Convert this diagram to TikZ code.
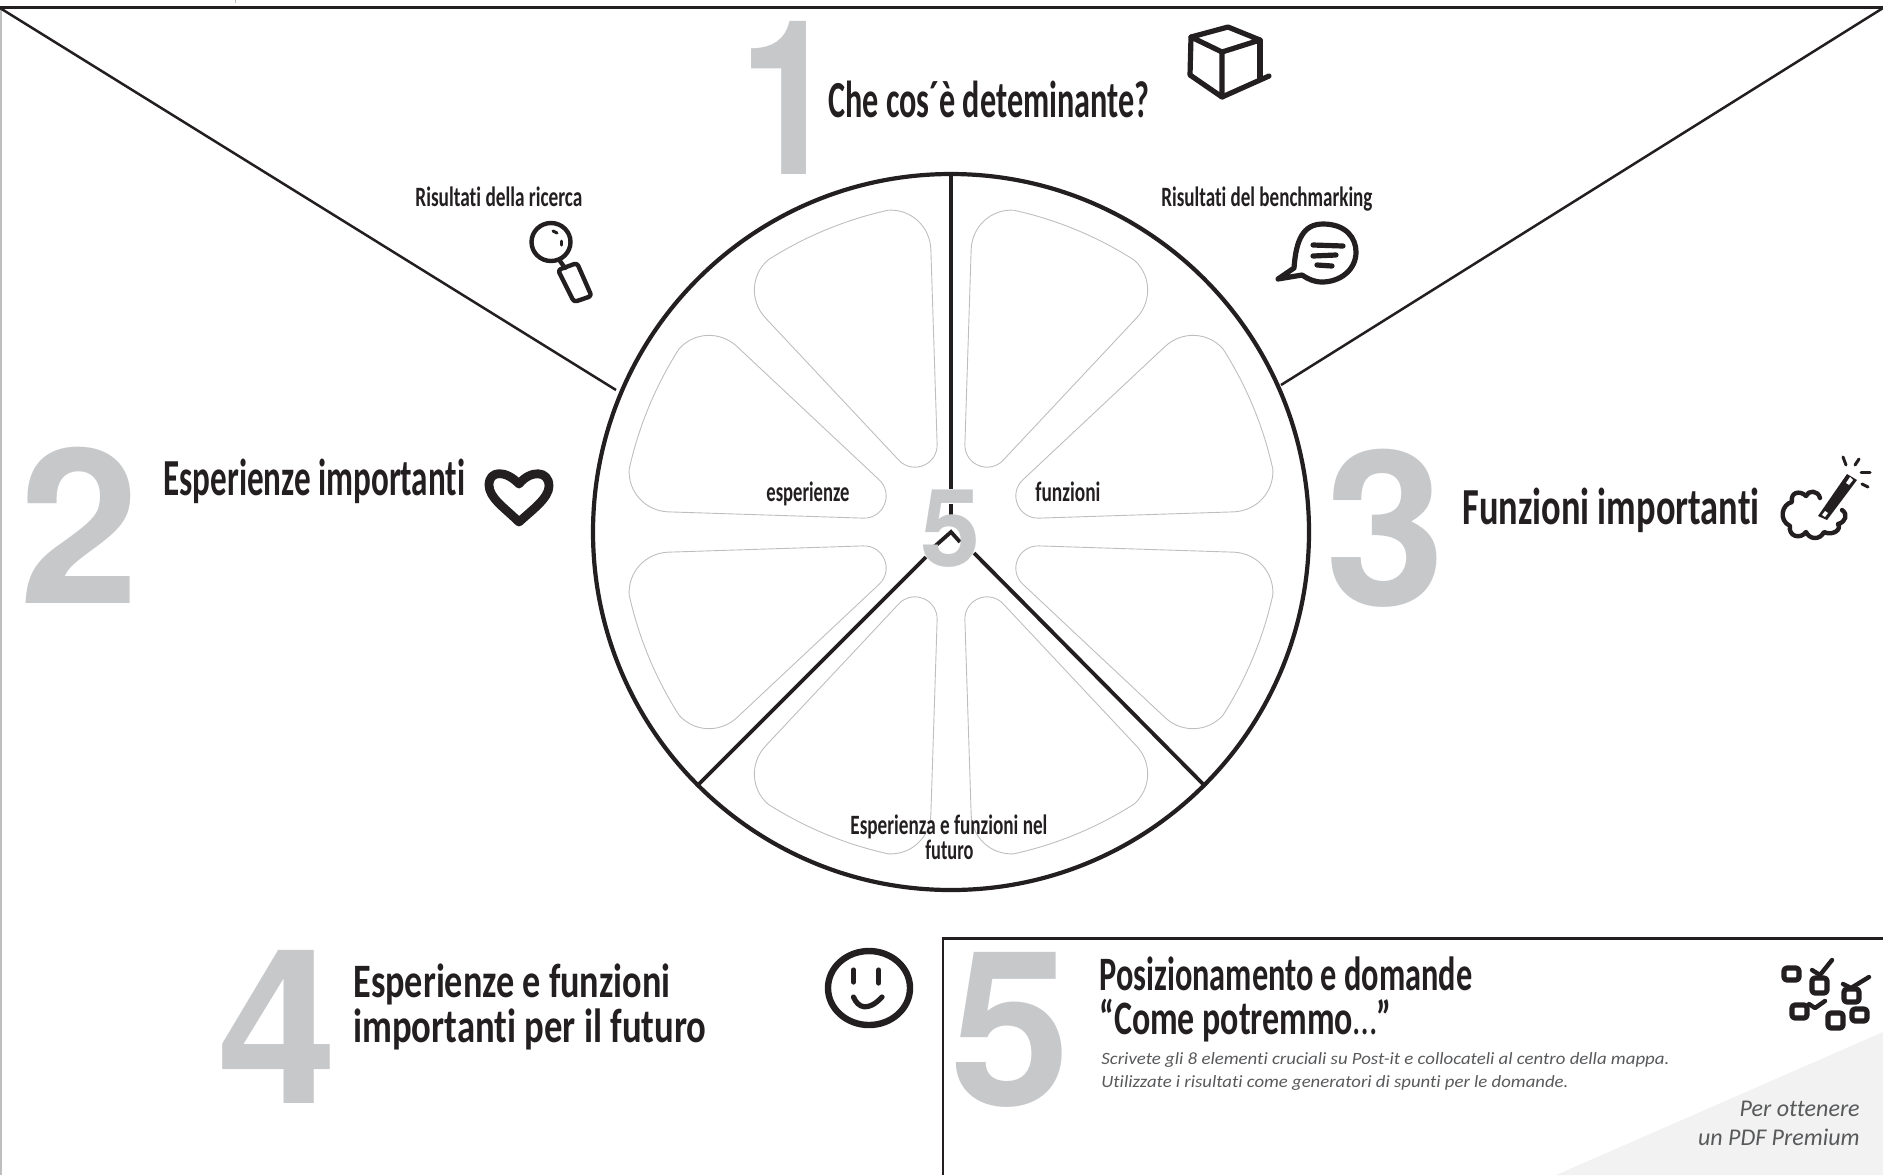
\documentclass[tikz,border=0pt]{standalone}
\usepackage{fontspec}
\usepackage{graphicx}
\setmainfont{Carlito}[Ligatures=NoCommon]
\newfontfamily\handf{Carlito}[Ligatures=NoCommon]
\newfontfamily\digitf{TeX Gyre Heros}
\definecolor{numgray}{HTML}{C7C8CA}
\definecolor{petalgray}{HTML}{BDBEC0}
\definecolor{inkc}{HTML}{231F20}
\definecolor{notec}{HTML}{58595B}
\newcommand\fitw[2]{\resizebox{\dimexpr #1pt/2\relax}{\height}{#2}}
\tikzset{
 pagearea/.style={x=0.5pt,y=-0.5pt},
 framel/.style={draw=inkc,line width=1.3pt},
 spoke/.style={draw=inkc,line width=1.9pt},
 rimc/.style={draw=inkc,line width=2.1pt},
 petalp/.style={draw=petalgray,line width=0.45pt},
 bignum/.style={inner sep=0,anchor=base,text=numgray,font=\digitf\bfseries\fontsize{108}{108}\selectfont},
 midnum/.style={inner sep=0,anchor=base,text=numgray,font=\digitf\bfseries\fontsize{54}{54}\selectfont},
 titlet/.style={inner sep=0,anchor=base west,text=inkc,font=\handf\bfseries\fontsize{26}{26}\selectfont},
 titlettwo/.style={titlet,font=\handf\bfseries\fontsize{24}{24}\selectfont},
 smallt/.style={inner sep=0,anchor=base west,text=inkc,font=\handf\bfseries\fontsize{14}{14}\selectfont},
 notet/.style={inner sep=0,anchor=base west,text=notec,font=\itshape\fontsize{8.6}{10}\selectfont},
 notebig/.style={inner sep=0,anchor=base east,text=notec,font=\itshape\fontsize{12}{14}\selectfont},
 iconl/.style={draw=inkc,line width=2.6pt,line cap=round,line join=round},
 iconm/.style={draw=inkc,line width=2.2pt,line cap=round,line join=round},
}
\begin{document}
\begin{tikzpicture}[pagearea]
\useasboundingbox (0,0) rectangle (1883,1175);
% grey triangle
\fill[color=black!5] (1883,1032) -- (1556,1175) -- (1883,1175) -- cycle;
% frame
\draw[petalgray,line width=1pt] (1,8) -- (1,1175);
\draw[petalgray,line width=0.5pt] (235,0) -- (235,3);
\draw[framel] (0,7.5) -- (1883,7.5);
\coordinate (cen) at (951,532);
\coordinate (tl) at (0,8);
\coordinate (tr) at (1883,8);
\coordinate (dl) at (616,390);
\coordinate (dr) at (1281,385);
\draw[inkc,line width=1.25pt] (tl) -- (dl);
\draw[inkc,line width=1.25pt] (tr) -- (dr);
% box
\draw[framel] (943,1175) -- (943,938.5) -- (1883,938.5);
% petals
\foreach \a in {22.5,67.5,...,337.5}{
 \draw[petalp,shift={(cen)},rotate=\a]
  (20.8,-86.5) .. controls (13.5,-67.2) and (-13.5,-67.2) .. (-20.8,-86.5)
  -- (-89.6,-269) .. controls (-97.5,-290.5) and (-86.6,-314) .. (-65,-321.4)
  .. controls (-22,-329) and (22,-329) .. (65,-321.4)
  .. controls (86.6,-314) and (97.5,-290.5) .. (89.6,-269) -- cycle;
}
% wheel
\draw[rimc] (cen) circle[radius=358];
\coordinate (sT) at (951,174);
\coordinate (sL) at (698,785);
\coordinate (sR) at (1204,785);
\draw[spoke] (sT) -- (951,488.5);
\draw[spoke] (951,504) -- (951,515);
\draw[spoke] (934,547) -- (cen) -- (960,542);
\draw[spoke] (926,557) -- (sL);
\draw[spoke] (974,553) -- (sR);
\node[midnum] (nc) at (951,566) {5};
% big numbers
\node[bignum] (n1) at (789,174) {\scalebox{0.82}[1]{1}};
\node[bignum] (n2) at (80,603) {2};
\node[bignum] (n3) at (1386,605) {3};
\node[bignum] (n4) at (278,1103) {4};
\node[bignum] (n5) at (1011,1105) {5};
% titles
\node[titlet] (t1) at (828,117) {\fitw{321}{Che cos´è deteminante?}};
\node[titlet] (t2) at (163,495) {\fitw{302}{Esperienze importanti}};
\node[titlet] (t3) at (1462,524) {\fitw{297}{Funzioni importanti}};
\node[titlettwo] (t4a) at (353,997) {\fitw{317}{Esperienze e funzioni}};
\node[titlettwo] (t4b) at (353,1042) {\fitw{353}{importanti per il futuro}};
\node[titlettwo] (t5a) at (1099,990) {\fitw{373}{Posizionamento e domande}};
\node[titlettwo] (t5b) at (1099,1034) {\fitw{292}{“Come potremmo{\mdseries …}”}};
% small labels
\node[smallt] (l1) at (415,206) {\fitw{167}{Risultati della ricerca}};
\node[smallt] (l2) at (1161,206) {\fitw{211}{Risultati del benchmarking}};
\node[smallt] (l3) at (766,501) {\fitw{83}{esperienze}};
\node[smallt] (l4) at (1035,501) {\fitw{65}{funzioni}};
\node[smallt] (l5) at (850,834) {\fitw{197}{Esperienza e funzioni nel}};
\node[smallt] (l6) at (925,859) {\fitw{48}{futuro}};
% notes
\node[notet] (p1) at (1101,1064) {\fitw{568}{Scrivete gli 8 elementi cruciali su Post-it e collocateli al centro della mappa.}};
\node[notet] (p2) at (1101,1087) {\fitw{467}{Utilizzate i risultati come generatori di spunti per le domande.}};
\node[notebig] (p3) at (1860,1116) {Per ottenere};
\node[notebig] (p4) at (1860,1145) {un PDF Premium};
% cube
\draw[iconl] (1191,37) -- (1228,27) -- (1260,40) -- (1222,52) -- cycle;
\draw[iconl] (1191,37) -- (1190,75) -- (1222,97) -- (1222,52);
\draw[iconl] (1260,40) -- (1260,78);
\draw[iconl] (1222,97) -- (1269,76);
% magnifier
\draw[iconm] (551,242) ellipse[x radius=19.5,y radius=19];
\draw[iconm] (560,261) -- (565,268);
\draw[iconm,rounded corners=1.5pt] (558,270) -- (577,263) -- (591.5,296) -- (574,302) -- cycle;
\draw[iconm,line width=1.5pt] (553,231) -- (557,233);
\draw[iconm,line width=1.5pt] (561,241) -- (561,245);
% speech bubble
\draw[iconl] (1294,268) .. controls (1296,240) and (1303,224) .. (1323,224)
 .. controls (1346,224) and (1356,238) .. (1356,252)
 .. controls (1356,270) and (1340,282) .. (1322,282)
 .. controls (1314,282) and (1308,279) .. (1302,275)
 -- (1278,279) -- (1294,268);
\draw[iconl] (1313,245) -- (1343,246);
\draw[iconl] (1313,256) -- (1336,255);
\draw[iconl] (1317,265) -- (1332,266);
% heart
\draw[iconl,line width=4.4pt] (519,522) .. controls (505,508) and (489,498) .. (489,485)
 .. controls (489,470) and (506,470) .. (519,484)
 .. controls (530,470) and (549,470) .. (549,486)
 .. controls (549,498) and (532,510) .. (519,522) -- cycle;
% wand and cloud
\draw[iconm] (1820,498) .. controls (1818,490) and (1808,490) .. (1806,496)
 .. controls (1800,490) and (1790,492) .. (1792,502)
 .. controls (1782,504) and (1778,520) .. (1790,526)
 .. controls (1788,536) and (1800,540) .. (1806,532)
 .. controls (1810,540) and (1820,540) .. (1824,532)
 .. controls (1832,536) and (1842,530) .. (1838,524)
 .. controls (1846,522) and (1848,514) .. (1842,510);
\fill[inkc] (1847,474) -- (1857,480) -- (1827,520) -- (1818,516) -- cycle;
\fill[white] (1846,483) -- (1850,477) -- (1853,480) -- (1849,485) -- cycle;
\fill[white] (1822,515) -- (1825,511) -- (1828,513) -- (1825,517) -- cycle;
\draw[iconm,line width=1.5pt] (1843,457) -- (1846,465);
\draw[iconm,line width=1.5pt] (1859,459) -- (1855,465);
\draw[iconm,line width=1.5pt] (1861,472) -- (1870,472);
\draw[iconm,line width=1.5pt] (1862,484) -- (1868,487);
% smiley
\draw[iconl,line width=3.2pt] (869,988) ellipse[x radius=41,y radius=37];
\draw[iconl] (853.5,970) -- (853.5,982);
\draw[iconl] (878.6,970) -- (878.6,983);
\draw[iconl] (853.5,997) .. controls (858,1008) and (868,1012) .. (882,997);
% check icon
\draw[iconl,line width=2.6pt,rounded corners=1.5pt] (1784,968) rectangle (1799,980);
\draw[iconl,line width=2.6pt,rounded corners=1.5pt] (1812,978) rectangle (1827,993);
\draw[iconl,line width=2.2pt] (1812,970) -- (1820,975) -- (1832,960);
\draw[iconl,line width=2.6pt,rounded corners=1.5pt] (1844,989) rectangle (1859,1002);
\draw[iconl,line width=2.2pt] (1843,984) -- (1851,988) -- (1869,977);
\draw[iconl,line width=2.6pt,rounded corners=1.5pt] (1792,1005) rectangle (1807,1018);
\draw[iconl,line width=2.2pt] (1809,1004) -- (1815,1008) -- (1825,1001);
\draw[iconl,line width=2.6pt,rounded corners=1.5pt] (1828,1013) rectangle (1843,1028);
\draw[iconl,line width=2.6pt,rounded corners=1.5pt] (1852,1009) rectangle (1867,1021);
\end{tikzpicture}
\end{document}
